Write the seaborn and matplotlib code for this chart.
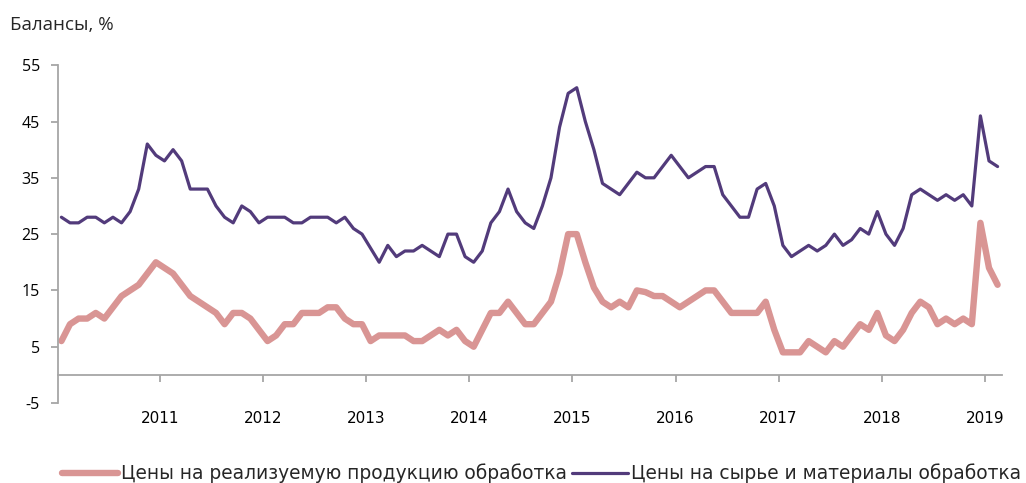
import numpy as np
import pandas as pd
import matplotlib.pyplot as plt
import seaborn as sns
from matplotlib.lines import Line2D

# monthly balances, Jan 2010 - Feb 2019
output_prices = [6, 9, 10, 10, 11, 10, 12, 14, 15, 16, 18, 20,
                 19, 18, 16, 14, 13, 12, 11, 9, 11, 11, 10, 8,
                 6, 7, 9, 9, 11, 11, 11, 12, 12, 10, 9, 9,
                 6, 7, 7, 7, 7, 6, 6, 7, 8, 7, 8, 6,
                 5, 8, 11, 11, 13, 11, 9, 9, 11, 13, 18, 25,
                 25, 20, 15.5, 13, 12, 13, 12, 15, 14.7, 14, 14, 13,
                 12, 13, 14, 15, 15, 13, 11, 11, 11, 11, 13, 8,
                 4, 4, 4, 6, 5, 4, 6, 5, 7, 9, 8, 11,
                 7, 6, 8, 11, 13, 12, 9, 10, 9, 10, 9, 27,
                 19, 16]
input_prices = [28, 27, 27, 28, 28, 27, 28, 27, 29, 33, 41, 39,
                38, 40, 38, 33, 33, 33, 30, 28, 27, 30, 29, 27,
                28, 28, 28, 27, 27, 28, 28, 28, 27, 28, 26, 25,
                22.5, 20, 23, 21, 22, 22, 23, 22, 21, 25, 25, 21,
                20, 22, 27, 29, 33, 29, 27, 26, 30, 35, 44, 50,
                51, 45, 40, 34, 33, 32, 34, 36, 35, 35, 37, 39,
                37, 35, 36, 37, 37, 32, 30, 28, 28, 33, 34, 30,
                23, 21, 22, 23, 22, 23, 25, 23, 24, 26, 25, 29,
                25, 23, 26, 32, 33, 32, 31, 32, 31, 32, 30, 46,
                38, 37]
series_names = ['Цены на реализуемую продукцию обработка',
                'Цены на сырье и материалы обработка']
years = list(range(2011, 2020))
y_ticks = [-5, 5, 15, 25, 35, 45, 55]

month_idx = np.arange(len(output_prices))
df = pd.DataFrame({
    'month': np.concatenate([month_idx, month_idx]),
    'value': output_prices + input_prices,
    'series': [series_names[0]] * len(output_prices) + [series_names[1]] * len(input_prices),
})

sns.set_theme(style='white')
plt.rcParams['font.family'] = ['DejaVu Sans']

fig = plt.figure(figsize=(10.26, 4.83), dpi=100)
ax = fig.add_axes([0.0565, 0.1656, 0.92, 0.6994])

pink, purple = '#D99594', '#523B7B'
palette = {series_names[0]: pink, series_names[1]: purple}
sns.lineplot(data=df, x='month', y='value', hue='series', size='series',
             sizes={series_names[0]: 4.6, series_names[1]: 2.3},
             palette=palette, ax=ax, legend=False)
for line in ax.lines:
    line.set_solid_joinstyle('round')
    line.set_solid_capstyle('round')

ax.set_xlim(-0.4, 109.5)
ax.set_ylim(-5, 55)
ax.set_yticks(y_ticks)
ax.set_yticklabels([str(t) for t in y_ticks], family=['Open Sans', 'DejaVu Sans'], fontsize=11.5)
ax.set_xticks([12 * (y - 2010) - 0.5 for y in years])
ax.set_xticklabels([str(y) for y in years], fontsize=12.5)
ax.set_xlabel('')
ax.set_ylabel('')

axis_grey = '#A6A6A6'
for side in ['top', 'right']:
    ax.spines[side].set_visible(False)
for side in ['left', 'bottom']:
    ax.spines[side].set_color(axis_grey)
    ax.spines[side].set_linewidth(1.3)
ax.spines['bottom'].set_position(('data', 0))
ax.tick_params(axis='x', direction='out', length=5, width=1.3, color=axis_grey,
               pad=21, bottom=True, labelcolor='black')
ax.tick_params(axis='y', direction='out', length=5, width=1.3, color=axis_grey,
               pad=8, left=True, labelcolor='black')

fig.text(0.01, 0.948, 'Балансы, %', fontsize=13.5, family=['Open Sans', 'DejaVu Sans'],
         va='center', ha='left')

handles = [Line2D([0], [0], color=pink, lw=4.6, solid_capstyle='round'),
           Line2D([0], [0], color=purple, lw=2.3, solid_capstyle='round')]
fig.legend(handles, series_names, loc='center', bbox_to_anchor=(0.528, 0.02),
           ncol=2, frameon=False, fontsize=13.4, handlelength=3.0, handletextpad=0.15,
           columnspacing=0.3, borderpad=0.1)

fig.savefig('out.png', dpi=100)
